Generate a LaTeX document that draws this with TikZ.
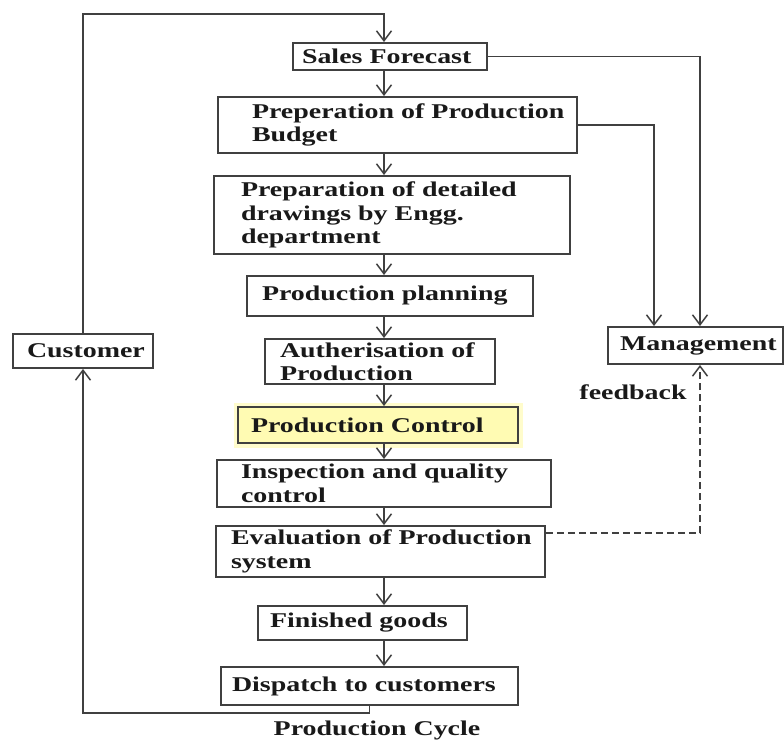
\documentclass[tikz,border=0pt]{standalone}
\usepackage{fontspec}
\setmainfont{Liberation Serif}[FakeStretch=1.33]
\usetikzlibrary{arrows.meta}

\tikzset{
  stepbox/.style={draw=black!75, line width=1.9pt, fill=white, align=left,
    inner xsep=0pt, inner ysep=0pt, text=black!90,
    font=\fontsize{21}{23.5}\selectfont\bfseries},
  lpad/.style={execute at begin node={\leftskip=#1pt\relax}},
  glow/.style={fill=yellow!30, preaction={draw=yellow!20, line width=9pt}},
  flow/.style={draw=black!75, line width=1.9pt, -{Straight Barb[length=10pt,width=15pt,line width=1.5pt]}},
  lbl/.style={text=black!90, font=\fontsize{21}{23.5}\selectfont\bfseries},
}

\begin{document}
\begin{tikzpicture}[x=1pt, y=-1pt]
  \useasboundingbox (0,0) rectangle (784,743);

  % nodes
  \node[stepbox, text width=194, minimum height=27, lpad=9] (sales) at (390,56.5) {Sales Forecast};
  \node[stepbox, text width=359, minimum height=56, lpad=34] (budget) at (397.5,125) {Preperation of Production\\Budget};
  \node[stepbox, text width=356, minimum height=78, lpad=27] (drawings) at (392,215) {Preparation of detailed\\drawings by Engg.\\department};
  \node[stepbox, text width=286, minimum height=40, lpad=15] (planning) at (390,296) {Production planning};
  \node[stepbox, text width=230, minimum height=45, lpad=15] (auth) at (380,361.5) {Autherisation of\\Production};
  \node[stepbox, glow, text width=280, minimum height=36, lpad=13] (control) at (378,425) {Production Control};
  \node[stepbox, text width=334, minimum height=47, lpad=24] (inspect) at (384,483.5) {Inspection and quality\\control};
  \node[stepbox, text width=329, minimum height=51, lpad=15] (eval) at (380.5,551.5) {Evaluation of Production\\system};
  \node[stepbox, text width=209, minimum height=34, lpad=12] (finished) at (362.5,623) {Finished goods};
  \node[stepbox, text width=297, minimum height=38, lpad=11] (dispatch) at (369.5,686) {Dispatch to customers};

  \node[stepbox, text width=140, minimum height=34, lpad=14] (customer) at (83,351) {Customer};
  \node[stepbox, text width=175, minimum height=37, lpad=12] (management) at (695.5,345.5) {Management};

  \coordinate (spine) at (384,0);
  \coordinate (top) at (384,14);

  % edges
  \foreach \a/\b in {sales/budget, budget/drawings, drawings/planning, planning/auth,
      auth/control, control/inspect, inspect/eval, eval/finished, finished/dispatch}
    \draw[flow] (\a.south -| spine) -- (\b.north -| spine);

  \draw[flow] (customer.north) |- (top) -- (sales.north -| spine);
  \draw[flow] (dispatch.south) -- ++(0,7) -| (customer.south);

  \draw[flow] (sales.east) -| ([xshift=4.5pt]management.north);
  \draw[flow] (budget.east) -| ([xshift=-41.5pt]management.north);
  \draw[flow, dash pattern=on 7pt off 4pt] ([yshift=18.5pt]eval.east) -| ([xshift=4.5pt]management.south);

  % text
  \node[lbl] (fb) at (633,392) {feedback};
  \node[lbl] (cycle) at (377,730) {Production Cycle};
\end{tikzpicture}
\end{document}
